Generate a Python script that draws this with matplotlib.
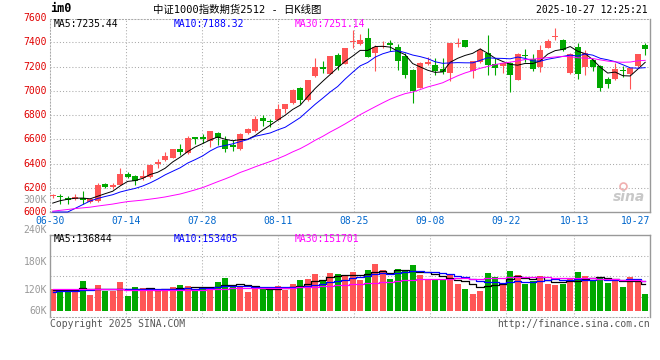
import numpy as np
import pandas as pd
import matplotlib
matplotlib.use('Agg')
import matplotlib.pyplot as plt
from matplotlib.transforms import blended_transform_factory

# IM2512 daily bars, 2025-06-30 .. 2025-10-27
opens = [6128, 6136, 6114, 6106, 6114, 6081, 6092, 6233, 6203, 6225,
         6317, 6295, 6281, 6286, 6392, 6425, 6448, 6517, 6484, 6617,
         6615, 6584, 6649, 6595, 6554, 6521, 6649, 6665, 6774, 6742,
         6763, 6848, 6897, 7019, 6921, 7120, 7196, 7141, 7296, 7223,
         7402, 7384, 7438, 7308, 7360, 7397, 7357, 7289, 7173, 7025,
         7219, 7213, 7181, 7146, 7384, 7416, 7165, 7241, 7308, 7222,
         7208, 7227, 7092, 7292, 7262, 7200, 7354, 7440, 7416, 7146,
         7360, 7195, 7254, 7206, 7100, 7098, 7162, 7141, 7208, 7376]
highs = [6150, 6147, 6128, 6150, 6175, 6114, 6236, 6242, 6242, 6359,
         6328, 6309, 6350, 6392, 6434, 6498, 6517, 6559, 6628, 6617,
         6640, 6668, 6663, 6630, 6595, 6649, 6690, 6793, 6801, 6766,
         6894, 6894, 7011, 7030, 7092, 7269, 7242, 7288, 7310, 7356,
         7505, 7470, 7516, 7381, 7408, 7416, 7386, 7308, 7181, 7240,
         7281, 7268, 7268, 7395, 7435, 7416, 7246, 7349, 7457, 7268,
         7227, 7241, 7314, 7343, 7300, 7381, 7430, 7519, 7430, 7308,
         7397, 7335, 7262, 7214, 7111, 7227, 7208, 7187, 7303, 7397]
lows = [6115, 6064, 6064, 6095, 6064, 6072, 6086, 6195, 6186, 6220,
        6280, 6220, 6267, 6281, 6364, 6420, 6442, 6470, 6481, 6561,
        6570, 6540, 6554, 6494, 6507, 6515, 6643, 6662, 6711, 6698,
        6758, 6815, 6894, 6888, 6916, 7114, 7147, 7139, 7174, 7220,
        7349, 7381, 7276, 7160, 7349, 7330, 7173, 7106, 6903, 7020,
        7213, 7133, 7138, 7079, 7362, 7360, 7106, 7227, 7127, 7133,
        7146, 6992, 7087, 7241, 7165, 7154, 7349, 7416, 7330, 7138,
        7098, 7127, 7160, 6998, 7025, 7092, 7111, 7011, 7200, 7295]
closes = [6135, 6120, 6097, 6125, 6097, 6106, 6225, 6203, 6225, 6317,
          6292, 6259, 6295, 6384, 6409, 6459, 6517, 6492, 6614, 6600,
          6600, 6668, 6611, 6521, 6540, 6643, 6684, 6766, 6747, 6739,
          6853, 6888, 7003, 6921, 7092, 7193, 7182, 7283, 7201, 7356,
          7410, 7416, 7281, 7362, 7365, 7376, 7249, 7133, 6998, 7227,
          7240, 7160, 7154, 7395, 7390, 7360, 7246, 7335, 7214, 7187,
          7227, 7127, 7300, 7286, 7181, 7335, 7408, 7446, 7335, 7300,
          7141, 7308, 7200, 7025, 7057, 7181, 7160, 7187, 7303, 7343]
volumes = [125, 125, 120, 120, 150, 108, 138, 120, 120, 147,
           105, 132, 129, 126, 123, 123, 132, 138, 135, 126,
           129, 129, 147, 159, 132, 132, 117, 129, 132, 123,
           135, 123, 141, 153, 156, 171, 150, 174, 171, 168,
           177, 153, 183, 201, 183, 156, 186, 183, 198, 168,
           153, 153, 156, 168, 141, 126, 111, 120, 174, 162,
           138, 180, 168, 141, 150, 165, 141, 138, 141, 159,
           177, 165, 153, 162, 144, 156, 132, 162, 150, 112]
volumes = [v * 1000 for v in volumes]

# sessions before 06-30, only feeding the moving averages
prior_closes = [5900, 5890, 5900, 5920, 5930, 5950, 5960, 5980, 5990, 6000,
                6080, 6110, 6140, 6160, 6170, 6150, 6130, 6110, 6080, 6030,
                5950, 5880, 5825, 5790, 5801, 6020, 6040, 6080, 6092]
prior_volumes = [128, 135, 122, 140, 131, 126, 133, 129, 137, 124,
                 130, 132, 127, 135, 128, 126, 134, 131, 125, 127,
                 112, 118, 110, 116, 114, 118, 124, 120, 123]
prior_volumes = [v * 1000 for v in prior_volumes]

date_labels = ['06-30', '07-14', '07-28', '08-11', '08-25',
               '09-08', '09-22', '10-13', '10-27']
date_index = [0, 10, 20, 30, 40, 50, 60, 69, 79]
price_ticks = [6000, 6200, 6400, 6600, 6800, 7000, 7200, 7400, 7600]
vol_labels = ['300K', '240K', '180K', '120K', '60K']
vol_label_px = [200, 230, 262, 290, 311]

RED = '#ff5555'
GREEN = '#00a800'
GRID = '#aaaaaa'
EDGE = '#999999'
MONO = 'DejaVu Sans Mono'
CJK = ['DejaVu Sans Mono', 'Noto Sans CJK SC']


def moving_avg(vals, prior, n):
    s = pd.Series(list(prior) + list(vals)).rolling(n).mean().values
    return s[len(prior):]


o = np.array(opens, float)
h = np.array(highs, float)
l = np.array(lows, float)
c = np.array(closes, float)
v = np.array(volumes, float)
x = np.arange(len(c))
col = np.where(c >= o, RED, GREEN)

W, H = 660, 360
fig = plt.figure(figsize=(W / 100, H / 100), dpi=100)


def box(left, top, right, bottom):
    return [left / W, 1 - bottom / H, (right - left) / W, (bottom - top) / H]


def ftext(px, py, s, **kw):
    fig.text(px / W, 1 - py / H, s, **kw)


ax = fig.add_axes(box(50, 19, 650, 212))
axv = fig.add_axes(box(50, 235, 650, 317))

x0 = -0.36
xlim = (x0, x0 + 80)
grid_x = x0 + np.array(date_index) * 80 / 79
dots = (0, (1, 2))

# ---- price panel
ax.set_xlim(*xlim)
ax.set_ylim(6000, 7592)
for p in price_ticks[1:-1]:
    ax.axhline(p, color=GRID, lw=0.75, ls=dots, zorder=0)
for gx in grid_x[1:-1]:
    ax.axvline(gx, color=GRID, lw=0.75, ls=dots, zorder=0)

ax.vlines(x, l, h, colors=col, lw=0.8, zorder=2)
body = np.maximum(np.abs(c - o), 9)
ax.bar(x, body, bottom=np.minimum(o, c), width=0.76, color=col, lw=0, zorder=3)

ylo, yhi = ax.get_ylim()
for n, color in [(5, 'black'), (10, '#0000ff'), (30, '#ff00ff')]:
    m = np.clip(moving_avg(closes, prior_closes, n), ylo, yhi)
    ax.plot(x, m, color=color, lw=0.7, zorder=4, clip_on=False)

ax.set_xticks([])
ax.set_yticks([])
for side in ['left', 'top']:
    ax.spines[side].set_color(GRID)
    ax.spines[side].set_linestyle(dots)
    ax.spines[side].set_linewidth(0.75)
for side in ['right', 'bottom']:
    ax.spines[side].set_color(EDGE)
    ax.spines[side].set_linewidth(1.0)

ytr = ax.get_yaxis_transform()
for p in price_ticks:
    ax.text(-0.006, p, str(p), transform=ytr, ha='right', va='center',
            color='#e00000', fontsize=7, family=MONO, clip_on=False)

xtr = blended_transform_factory(ax.transData, ax.transAxes)
for k, (gx, lab) in enumerate(zip(grid_x, date_labels)):
    ha = 'right' if k == len(date_labels) - 1 else 'center'
    ax.text(gx, -0.047, lab, transform=xtr, ha=ha, va='center',
            color='#0066cc', fontsize=7, family=MONO, clip_on=False)

# sina watermark
ax.text(0.965, 0.08, 'sina', transform=ax.transAxes, ha='center', va='center',
        color='#c8c8c8', fontsize=10, style='italic', weight='bold')
ax.plot([0.955], [0.135], 'o', transform=ax.transAxes, ms=5, mfc='none',
        mec='#f0b0b0', mew=1.2)

# ---- volume panel
axv.set_xlim(*xlim)
axv.set_ylim(42000, 288000)
vlo, vhi = axv.get_ylim()
for f in [0.25, 0.5, 0.75]:
    axv.axhline(vlo + f * (vhi - vlo), color=GRID, lw=0.75, ls=dots, zorder=0)
for gx in grid_x[1:-1]:
    axv.axvline(gx, color=GRID, lw=0.75, ls=dots, zorder=0)

axv.bar(x, v - 60000, bottom=60000, width=0.8, color=col, lw=0, zorder=2)
for n, color in [(5, 'black'), (10, '#0000ff'), (30, '#ff00ff')]:
    m = moving_avg(volumes, prior_volumes, n)
    axv.plot(x, m, color=color, lw=0.9, drawstyle='steps-mid', zorder=3)

axv.set_xticks([])
axv.set_yticks([])
for side in ['left', 'top', 'right']:
    axv.spines[side].set_color(EDGE)
    axv.spines[side].set_linewidth(1.0)
axv.spines['bottom'].set_color(GRID)
axv.spines['bottom'].set_linestyle(dots)
axv.spines['bottom'].set_linewidth(0.75)

for lab, py in zip(vol_labels, vol_label_px):
    ftext(47, py, lab, ha='right', va='center', color='#999999',
          fontsize=7, family=MONO)

# ---- header, legends, footer
ftext(50, 9, 'im0', ha='left', va='center', fontsize=8.5, weight='bold',
      family=MONO)
ftext(237, 9.5, '中证1000指数期货2512 - 日K线图', ha='center', va='center',
      fontsize=7.5, family=CJK)
ftext(648, 10, '2025-10-27 12:25:21', ha='right', va='center', fontsize=7,
      family=MONO)

ftext(54, 24, 'MA5:7235.44', ha='left', va='center', fontsize=7, family=MONO,
      color='black')
ftext(174, 24, 'MA10:7188.32', ha='left', va='center', fontsize=7, family=MONO,
      color='#0000ff')
ftext(295, 24, 'MA30:7251.14', ha='left', va='center', fontsize=7, family=MONO,
      color='#ff00ff')
ftext(54, 239, 'MA5:136844', ha='left', va='center', fontsize=7, family=MONO,
      color='black')
ftext(174, 239, 'MA10:153405', ha='left', va='center', fontsize=7, family=MONO,
      color='#0000ff')
ftext(295, 239, 'MA30:151701', ha='left', va='center', fontsize=7, family=MONO,
      color='#ff00ff')

ftext(50, 324, 'Copyright 2025 SINA.COM', ha='left', va='center', fontsize=7,
      family=MONO, color='#555555')
ftext(650, 324, 'http://finance.sina.com.cn', ha='right', va='center',
      fontsize=7, family=MONO, color='#555555')

fig.savefig('out.png', dpi=100, facecolor='white')
